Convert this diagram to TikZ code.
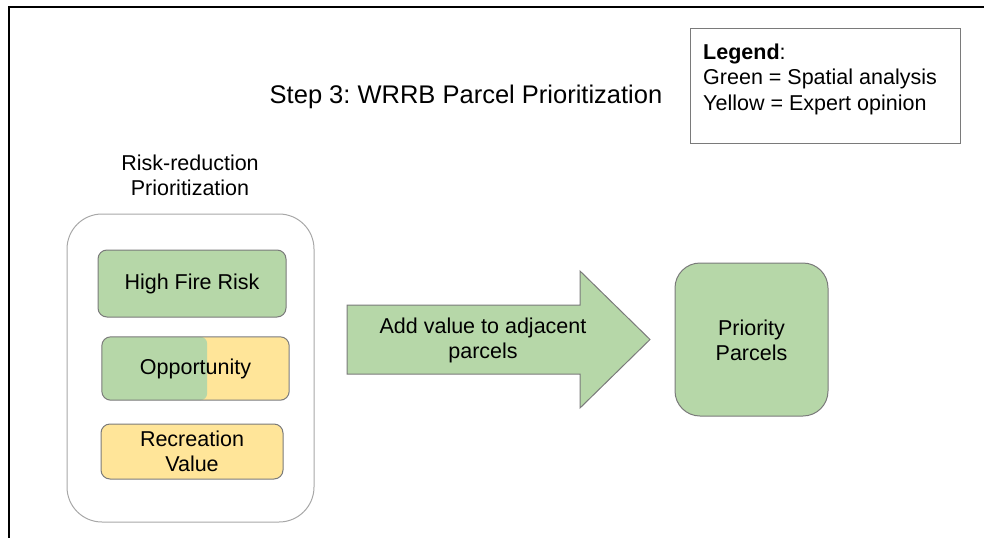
\documentclass[tikz,border=0pt]{standalone}
\usepackage{fontspec}
\setmainfont{Liberation Sans}
\frenchspacing
\usetikzlibrary{positioning}
\definecolor{gfill}{HTML}{B6D7A8}
\definecolor{yfill}{HTML}{FFE599}
\definecolor{bstroke}{HTML}{7A7A7A}
\definecolor{ostroke}{HTML}{A8A8A8}
\begin{document}
\begin{tikzpicture}[x=1pt,y=-1pt,
  txt/.style={font=\fontsize{21.5}{24.5}\selectfont, text=black, align=center, inner sep=0pt},
]
\useasboundingbox (0,0) rectangle (984,538);
% frame
\draw[line width=2.2pt, black] (984,7) -- (9,7) -- (9,538);
% title
\node[txt, font=\fontsize{25.5}{28}\selectfont] (title) at (466,97) {Step 3: WRRB Parcel Prioritization};
% legend
\node[draw=bstroke, line width=1pt, minimum width=270pt, minimum height=115pt, inner sep=0pt] (legend) at (825,85.5) {};
\node[txt, font=\fontsize{21.5}{25.5}\selectfont, align=left, anchor=north west] (legtxt) at (703,43.5) {\textbf{Legend}:\\Green = Spatial analysis\\Yellow = Expert opinion};
% group label
\node[txt] (grouplabel) at (190,175.5) {Risk-reduction\\Prioritization};
% outer container
\node[draw=ostroke, line width=1pt, rounded corners=35pt, minimum width=247pt, minimum height=308pt] (outer) at (190.5,368) {};
% High Fire Risk
\node[draw=bstroke, line width=1pt, fill=gfill, rounded corners=9pt, minimum width=188pt, minimum height=67pt, inner sep=0pt] (hfr) at (192,283.5) {};
\node[txt] (hfrtxt) at (hfr) {High Fire Risk};
% Opportunity (split fill)
\node[minimum width=187pt, minimum height=63pt, inner sep=0pt] (opp) at (195.5,368.5) {};
\begin{scope}
  \clip[rounded corners=9pt] (opp.north west) rectangle (opp.south east);
  \fill[yfill] (opp.north west) rectangle (opp.south east);
  \fill[gfill, rounded corners=7pt] ([xshift=-10pt]opp.north west) rectangle ([xshift=-82pt]opp.south east);
\end{scope}
\draw[bstroke, line width=1pt, rounded corners=9pt] (opp.north west) rectangle (opp.south east);
\node[txt] (opptxt) at (opp) {Opportunity};
% Recreation Value
\node[draw=bstroke, line width=1pt, fill=yfill, rounded corners=9pt, minimum width=182pt, minimum height=55pt, inner sep=0pt] (rec) at (192,451.5) {};
\node[txt] (rectxt) at (rec) {Recreation\\Value};
% big arrow
\coordinate (atail) at (347,339.5);
\coordinate (atip) at (650,339.5);
\draw[draw=bstroke, line width=1pt, fill=gfill]
  (347,305) -- (580,305) -- (580,271) -- (atip) -- (580,408) -- (580,374) -- (347,374) -- cycle;
\node[txt] (arrtxt) at (483,340.5) {Add value to adjacent\\parcels};
% Priority Parcels
\node[draw=bstroke, line width=1pt, fill=gfill, rounded corners=25pt, minimum width=153pt, minimum height=153pt, inner sep=0pt] (pp) at (751.5,339.5) {};
\node[txt] (pptxt) at (751.5,340.5) {Priority\\Parcels};
\end{tikzpicture}
\end{document}
